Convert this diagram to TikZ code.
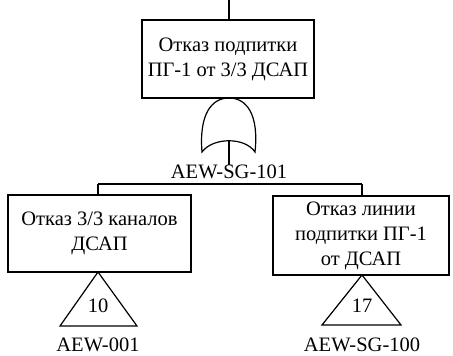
\documentclass[tikz,border=0pt]{standalone}
\usepackage{fontspec}
\setmainfont{Liberation Serif}
\begin{document}
\begin{tikzpicture}[x=1pt,y=-1pt,
  ev/.style={draw,line width=1.2pt,rectangle,inner sep=0pt,align=center,font=\fontsize{20.5}{25}\selectfont},
  lbl/.style={inner sep=0pt,font=\fontsize{20.5}{25}\selectfont},
  ln/.style={line width=1.2pt}]
\useasboundingbox (0,0) rectangle (453,356);
\node[ev,minimum width=172pt,minimum height=78pt] (top) at (228,59) {Отказ подпитки\\ПГ-1 от 3/3 ДСАП};
\coordinate (topin) at (229,0);
\draw[ln] (topin) -- (top.north -| topin);
% OR gate
\coordinate (gt) at (229,98);
\coordinate (gbl) at (202,152);
\coordinate (gbr) at (255,152);
\coordinate (gin) at (229,141);
\draw[ln] (gbl) .. controls (199,115) and (211,98) .. (gt) .. controls (247,98) and (259,115) .. (gbr)
  .. controls (245,137) and (213,137) .. (gbl) -- cycle;
\node[lbl] (g1) at (229,172) {AEW-SG-101};
\draw[ln] (gin) -- (g1.north);
\coordinate (bus) at (229,184);
\coordinate (busL) at (98,184);
\coordinate (busR) at (362,184);
\draw[ln] (busL) -- (busR);
% left event
\node[ev,minimum width=183pt,minimum height=77pt] (l) at (99.5,233.5) {Отказ 3/3 каналов\\ДСАП};
\draw[ln] (busL) -- (busL |- l.north);
\coordinate (ta) at (98,272);
\coordinate (tbl) at (60,326);
\coordinate (tbr) at (137,326);
\draw[ln] (ta) -- (tbr) -- (tbl) -- cycle;
\node[lbl] (n10) at (98,306) {10};
\node[lbl] (l1) at (98,345) {AEW-001};
% right event
\node[ev,minimum width=176pt,minimum height=79pt] (r) at (361,235.5) {Отказ линии\\подпитки ПГ-1\\от ДСАП};
\draw[ln] (busR) -- (busR |- r.north);
\coordinate (ra) at (362,275);
\coordinate (rbl) at (322,325);
\coordinate (rbr) at (401,325);
\draw[ln] (ra) -- (rbr) -- (rbl) -- cycle;
\node[lbl] (n17) at (362,306) {17};
\node[lbl] (r1) at (362,345) {AEW-SG-100};
\end{tikzpicture}
\end{document}
